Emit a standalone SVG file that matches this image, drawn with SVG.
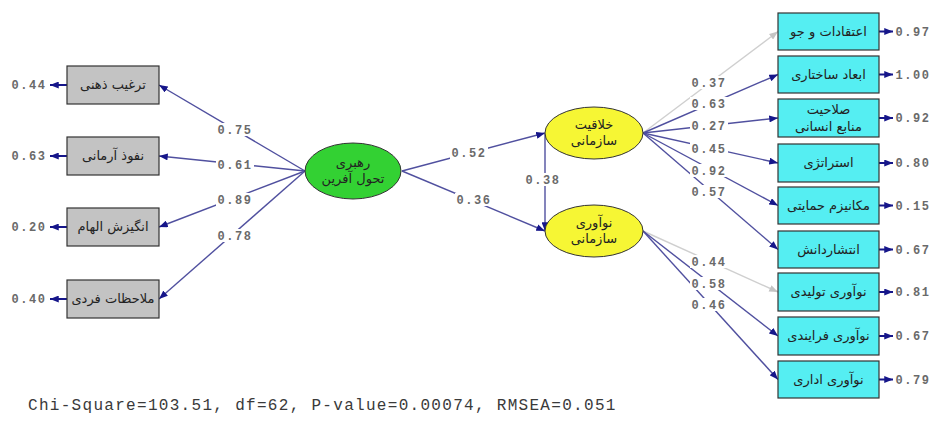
<svg xmlns="http://www.w3.org/2000/svg" width="933" height="421" viewBox="0 0 933 421">
<defs>
<marker id="ah" viewBox="0 0 10 8" refX="10" refY="4" markerWidth="9" markerHeight="7" markerUnits="userSpaceOnUse" orient="auto"><path d="M0,0 L10,4 L0,8 Z" fill="#16168a"/></marker>
<marker id="ahg" viewBox="0 0 10 8" refX="10" refY="4" markerWidth="9" markerHeight="7" markerUnits="userSpaceOnUse" orient="auto"><path d="M0,0 L10,4 L0,8 Z" fill="#c4c4c4"/></marker>
<style>
.c{stroke:#50509f;stroke-width:1.4;fill:none;marker-end:url(#ah)}
.g{stroke:#cfcfcf;stroke-width:1.4;fill:none;marker-end:url(#ahg)}
.e{stroke:#16168a;stroke-width:2;fill:none;marker-end:url(#ah)}
.lb{fill:#fff}
.n{font-family:"Liberation Mono",monospace;font-size:12px;font-weight:bold;fill:#6a6a6a;letter-spacing:1.5px;text-anchor:middle}
.gb{fill:#c3c3c3;stroke:#333;stroke-width:1.2}
.cb{fill:#55eef2;stroke:#333;stroke-width:1.2}
.t{font-family:"DejaVu Sans",sans-serif;font-size:13px;fill:#222;text-anchor:middle}
</style>
</defs>
<rect width="933" height="421" fill="#fff"/>
<g id="connectors">
<path class="c" d="M305,171 L159,85"/>
<path class="c" d="M305,171 L159,156"/>
<path class="c" d="M305,171 L159,227"/>
<path class="c" d="M305,171 L159,299"/>
<path class="c" d="M402,171 L545,133"/>
<path class="c" d="M402,171 L545,231"/>
<path class="c" d="M545,133 L545,231"/>
<path class="g" d="M643,133 L778,31.5"/>
<path class="c" d="M643,133 L778,74.5"/>
<path class="c" d="M643,133 L778,118"/>
<path class="c" d="M643,133 L778,163"/>
<path class="c" d="M643,133 L778,205.5"/>
<path class="c" d="M643,133 L778,249.5"/>
<path class="g" d="M643,231 L778,292"/>
<path class="c" d="M643,231 L778,336"/>
<path class="c" d="M643,231 L778,379.5"/>
<path class="e" d="M67,85 L50,85"/>
<path class="e" d="M67,156 L50,156"/>
<path class="e" d="M67,227 L50,227"/>
<path class="e" d="M67,299 L50,299"/>
<path class="e" d="M879,31.5 L893,31.5"/>
<path class="e" d="M879,74.5 L893,74.5"/>
<path class="e" d="M879,118 L893,118"/>
<path class="e" d="M879,163 L893,163"/>
<path class="e" d="M879,205.5 L893,205.5"/>
<path class="e" d="M879,249.5 L893,249.5"/>
<path class="e" d="M879,292 L893,292"/>
<path class="e" d="M879,336 L893,336"/>
<path class="e" d="M879,379.5 L893,379.5"/>
</g>
<g id="labels">
<rect class="lb" x="216" y="123" width="38" height="13"/><text class="n" x="235" y="134">0.75</text>
<rect class="lb" x="216" y="158" width="38" height="13"/><text class="n" x="235" y="169">0.61</text>
<rect class="lb" x="216" y="193" width="38" height="13"/><text class="n" x="235" y="204">0.89</text>
<rect class="lb" x="216" y="229" width="38" height="13"/><text class="n" x="235" y="240">0.78</text>
<rect class="lb" x="450" y="146" width="38" height="13"/><text class="n" x="469" y="157">0.52</text>
<rect class="lb" x="455" y="193" width="38" height="13"/><text class="n" x="474" y="204">0.36</text>
<rect class="lb" x="524" y="173" width="38" height="13"/><text class="n" x="543" y="184">0.38</text>
<rect class="lb" x="690" y="76" width="38" height="13"/><text class="n" x="709" y="87">0.37</text>
<rect class="lb" x="690" y="97" width="38" height="13"/><text class="n" x="709" y="108">0.63</text>
<rect class="lb" x="690" y="119" width="38" height="13"/><text class="n" x="709" y="130">0.27</text>
<rect class="lb" x="690" y="142" width="38" height="13"/><text class="n" x="709" y="153">0.45</text>
<rect class="lb" x="690" y="164" width="38" height="13"/><text class="n" x="709" y="175">0.92</text>
<rect class="lb" x="690" y="185" width="38" height="13"/><text class="n" x="709" y="196">0.57</text>
<rect class="lb" x="690" y="255" width="38" height="13"/><text class="n" x="709" y="266">0.44</text>
<rect class="lb" x="690" y="277" width="38" height="13"/><text class="n" x="709" y="288">0.58</text>
<rect class="lb" x="690" y="298" width="38" height="13"/><text class="n" x="709" y="309">0.46</text>
<text class="n" x="29" y="89">0.44</text>
<text class="n" x="29" y="160">0.63</text>
<text class="n" x="29" y="231">0.20</text>
<text class="n" x="29" y="303">0.40</text>
<text class="n" x="913" y="35.5">0.97</text>
<text class="n" x="913" y="78.5">1.00</text>
<text class="n" x="913" y="122">0.92</text>
<text class="n" x="913" y="167">0.80</text>
<text class="n" x="913" y="209.5">0.15</text>
<text class="n" x="913" y="253.5">0.67</text>
<text class="n" x="913" y="296">0.81</text>
<text class="n" x="913" y="340">0.67</text>
<text class="n" x="913" y="383.5">0.79</text>
</g>
<g id="n-l1"><rect class="gb" x="67" y="66" width="92" height="38"/><text class="t" x="113" y="89">ترغیب ذهنی</text></g>
<g id="n-l2"><rect class="gb" x="67" y="137" width="92" height="38"/><text class="t" x="113" y="160">نفوذ آرمانی</text></g>
<g id="n-l3"><rect class="gb" x="67" y="208" width="92" height="38"/><text class="t" x="113" y="231">انگیزش الهام</text></g>
<g id="n-l4"><rect class="gb" x="67" y="280" width="92" height="38"/><text class="t" x="113" y="303">ملاحظات فردی</text></g>
<g id="n-tl"><ellipse cx="353" cy="171" rx="48" ry="28" fill="#33d133" stroke="#333" stroke-width="1"/><text class="t" x="353" y="167">رهبری</text><text class="t" x="353" y="183">تحول آفرین</text></g>
<g id="n-cr"><ellipse cx="594" cy="133" rx="49" ry="26" fill="#f6f634" stroke="#333" stroke-width="1"/><text class="t" x="594" y="129">خلاقیت</text><text class="t" x="594" y="145">سازمانی</text></g>
<g id="n-in"><ellipse cx="594" cy="231" rx="49" ry="26" fill="#f6f634" stroke="#333" stroke-width="1"/><text class="t" x="594" y="227">نوآوری</text><text class="t" x="594" y="243">سازمانی</text></g>
<g id="n-r1"><rect class="cb" x="778" y="13" width="101" height="37"/><text class="t" x="828.5" y="36">اعتقادات و جو</text></g>
<g id="n-r2"><rect class="cb" x="778" y="56" width="101" height="37"/><text class="t" x="828.5" y="79">ابعاد ساختاری</text></g>
<g id="n-r3"><rect class="cb" x="778" y="99" width="101" height="38"/><text class="t" x="828.5" y="114">صلاحیت</text><text class="t" x="828.5" y="131">منابع انسانی</text></g>
<g id="n-r4"><rect class="cb" x="778" y="144" width="101" height="38"/><text class="t" x="828.5" y="167">استراتژی</text></g>
<g id="n-r5"><rect class="cb" x="778" y="187" width="101" height="37"/><text class="t" x="828.5" y="210">مکانیزم حمایتی</text></g>
<g id="n-r6"><rect class="cb" x="778" y="231" width="101" height="37"/><text class="t" x="828.5" y="254">انتشاردانش</text></g>
<g id="n-r7"><rect class="cb" x="778" y="273" width="101" height="38"/><text class="t" x="828.5" y="296">نوآوری تولیدی</text></g>
<g id="n-r8"><rect class="cb" x="778" y="317" width="101" height="38"/><text class="t" x="828.5" y="340">نوآوری فرایندی</text></g>
<g id="n-r9"><rect class="cb" x="778" y="361" width="101" height="37"/><text class="t" x="828.5" y="384">نوآوری اداری</text></g>
<text x="28" y="410" font-family="Liberation Mono, monospace" font-size="16" fill="#3a3a3a" letter-spacing="1.3">Chi-Square=103.51, df=62, P-value=0.00074, RMSEA=0.051</text>
</svg>
